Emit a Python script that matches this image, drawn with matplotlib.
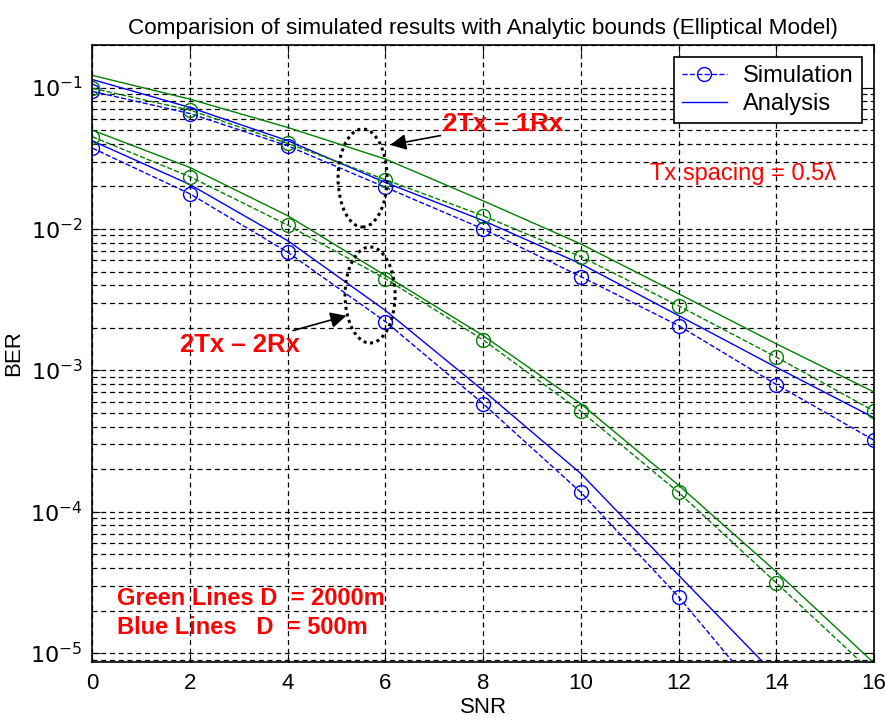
import numpy as np
import matplotlib
matplotlib.use('Agg')
import matplotlib.pyplot as plt
from matplotlib.patches import Ellipse

snr = [0, 2, 4, 6, 8, 10, 12, 14, 16]

# 2Tx - 1Rx
sim_1rx_green = [0.099, 0.0692, 0.0403, 0.0223, 0.0124, 0.00637, 0.00286, 0.00124, 0.000515]
sim_1rx_blue = [0.094, 0.0655, 0.0387, 0.0197, 0.0100, 0.0046, 0.00207, 0.000794, 0.00032]
ana_1rx_green = [0.122, 0.0828, 0.0522, 0.0312, 0.0158, 0.00783, 0.00348, 0.00154, 0.000702]
ana_1rx_blue = [0.114, 0.0723, 0.0421, 0.0213, 0.01146, 0.00566, 0.00244, 0.00105, 0.000462]

# 2Tx - 2Rx
sim_2rx_green = [0.0449, 0.0234, 0.01064, 0.00444, 0.00164, 0.000513, 0.000137, 3.14e-5, 7.1e-6]
sim_2rx_blue = [0.0373, 0.0177, 0.00684, 0.00221, 0.00058, 0.000137, 2.5e-5, 3.7e-6]
ana_2rx_green = [0.050, 0.0272, 0.0124, 0.00468, 0.00176, 0.00058, 0.000154, 3.76e-5, 8.5e-6]
ana_2rx_blue = [0.042, 0.0206, 0.00826, 0.00265, 0.00072, 0.000186, 3.56e-5, 6.9e-6]

blue = (0, 0, 1)
green = (0, 0.5, 0)

plt.rcParams['font.family'] = ['Liberation Sans', 'DejaVu Sans']

fig = plt.figure(figsize=(8.86, 7.26), dpi=100)
ax = fig.add_axes([0.1042, 0.0886, 0.8823, 0.8494])

mk = dict(marker='o', markersize=10, markerfacecolor='none', markeredgewidth=1.0)

ax.semilogy(snr, sim_1rx_blue, '--', color=blue, lw=1, label='Simulation', **mk)
ax.semilogy(snr, ana_1rx_blue, '-', color=blue, lw=1, label='Analysis')
ax.semilogy(snr, sim_1rx_green, '--', color=green, lw=1, **mk)
ax.semilogy(snr, ana_1rx_green, '-', color=green, lw=1)
ax.semilogy(snr[:len(sim_2rx_blue)], sim_2rx_blue, '--', color=blue, lw=1, **mk)
ax.semilogy(snr[:len(ana_2rx_blue)], ana_2rx_blue, '-', color=blue, lw=1)
ax.semilogy(snr, sim_2rx_green, '--', color=green, lw=1, **mk)
ax.semilogy(snr, ana_2rx_green, '-', color=green, lw=1)

ax.set_xlim(0, 16)
ax.set_ylim(8.7e-6, 0.2)
ax.set_xticks(snr)
ax.set_yticks([1e-5, 1e-4, 1e-3, 1e-2, 1e-1])
ax.set_yticklabels([r'$10^{-5}$', r'$10^{-4}$', r'$10^{-3}$', r'$10^{-2}$', r'$10^{-1}$'])

gstyle = dict(color='black', linestyle=(0, (4, 3)), linewidth=0.9)
ax.grid(True, which='major', axis='both', **gstyle)
ax.grid(True, which='minor', axis='y', **gstyle)
ax.tick_params(which='both', direction='in', top=True, right=True, labelsize=16)
ax.tick_params(axis='x', which='major', pad=8)
ax.tick_params(axis='y', which='major', pad=7)
ax.tick_params(which='major', length=6)
ax.tick_params(which='minor', length=3)
for s in ax.spines.values():
    s.set_linewidth(1.2)

ax.set_title('Comparision of simulated results with Analytic bounds (Elliptical Model)',
             fontsize=16.2, pad=8)
ax.set_xlabel('SNR', fontsize=16, labelpad=2)
ax.set_ylabel('BER', fontsize=16, labelpad=4)

leg = ax.legend(loc='upper right', bbox_to_anchor=(0.9847, 0.9805), borderaxespad=0,
                fontsize=17, fancybox=False, framealpha=1, edgecolor='black',
                handlelength=1.9, borderpad=0.35, labelspacing=0.25, handletextpad=0.7)
leg.get_frame().set_linewidth(1.2)

# ellipses marking the groups
for cx, cy, w, h in [(0.3457, 0.7843, 0.0627, 0.159), (0.3553, 0.5946, 0.064, 0.1557)]:
    ax.add_patch(Ellipse((cx, cy), w, h, transform=ax.transAxes, fill=False,
                         edgecolor='black', linestyle=(0, (1, 1.2)), linewidth=2.2, zorder=5))

ax.annotate('2Tx \u2013 1Rx', xy=(0.381, 0.838), xycoords='axes fraction',
            xytext=(0.449, 0.872), textcoords='axes fraction',
            fontsize=18.5, fontweight='bold', color='red', va='center', ha='left',
            arrowprops=dict(arrowstyle='-|>', color='black', lw=1.2, mutation_scale=24,
                            shrinkA=0, shrinkB=0))
ax.annotate('2Tx \u2013 2Rx', xy=(0.325, 0.561), xycoords='axes fraction',
            xytext=(0.2657, 0.513), textcoords='axes fraction',
            fontsize=18.5, fontweight='bold', color='red', va='center', ha='right',
            arrowprops=dict(arrowstyle='-|>', color='black', lw=1.2, mutation_scale=24,
                            shrinkA=0, shrinkB=0))

ax.text(0.713, 0.792, 'Tx spacing = 0.5\u03bb', transform=ax.transAxes,
        fontsize=17, color='red', va='center', ha='left')
ax.text(0.031, 0.103, 'Green Lines D  = 2000m', transform=ax.transAxes,
        fontsize=17, fontweight='bold', color='red', va='center', ha='left')
ax.text(0.031, 0.056, 'Blue Lines   D  = 500m', transform=ax.transAxes,
        fontsize=17, fontweight='bold', color='red', va='center', ha='left')

plt.savefig('out.png', dpi=100)
